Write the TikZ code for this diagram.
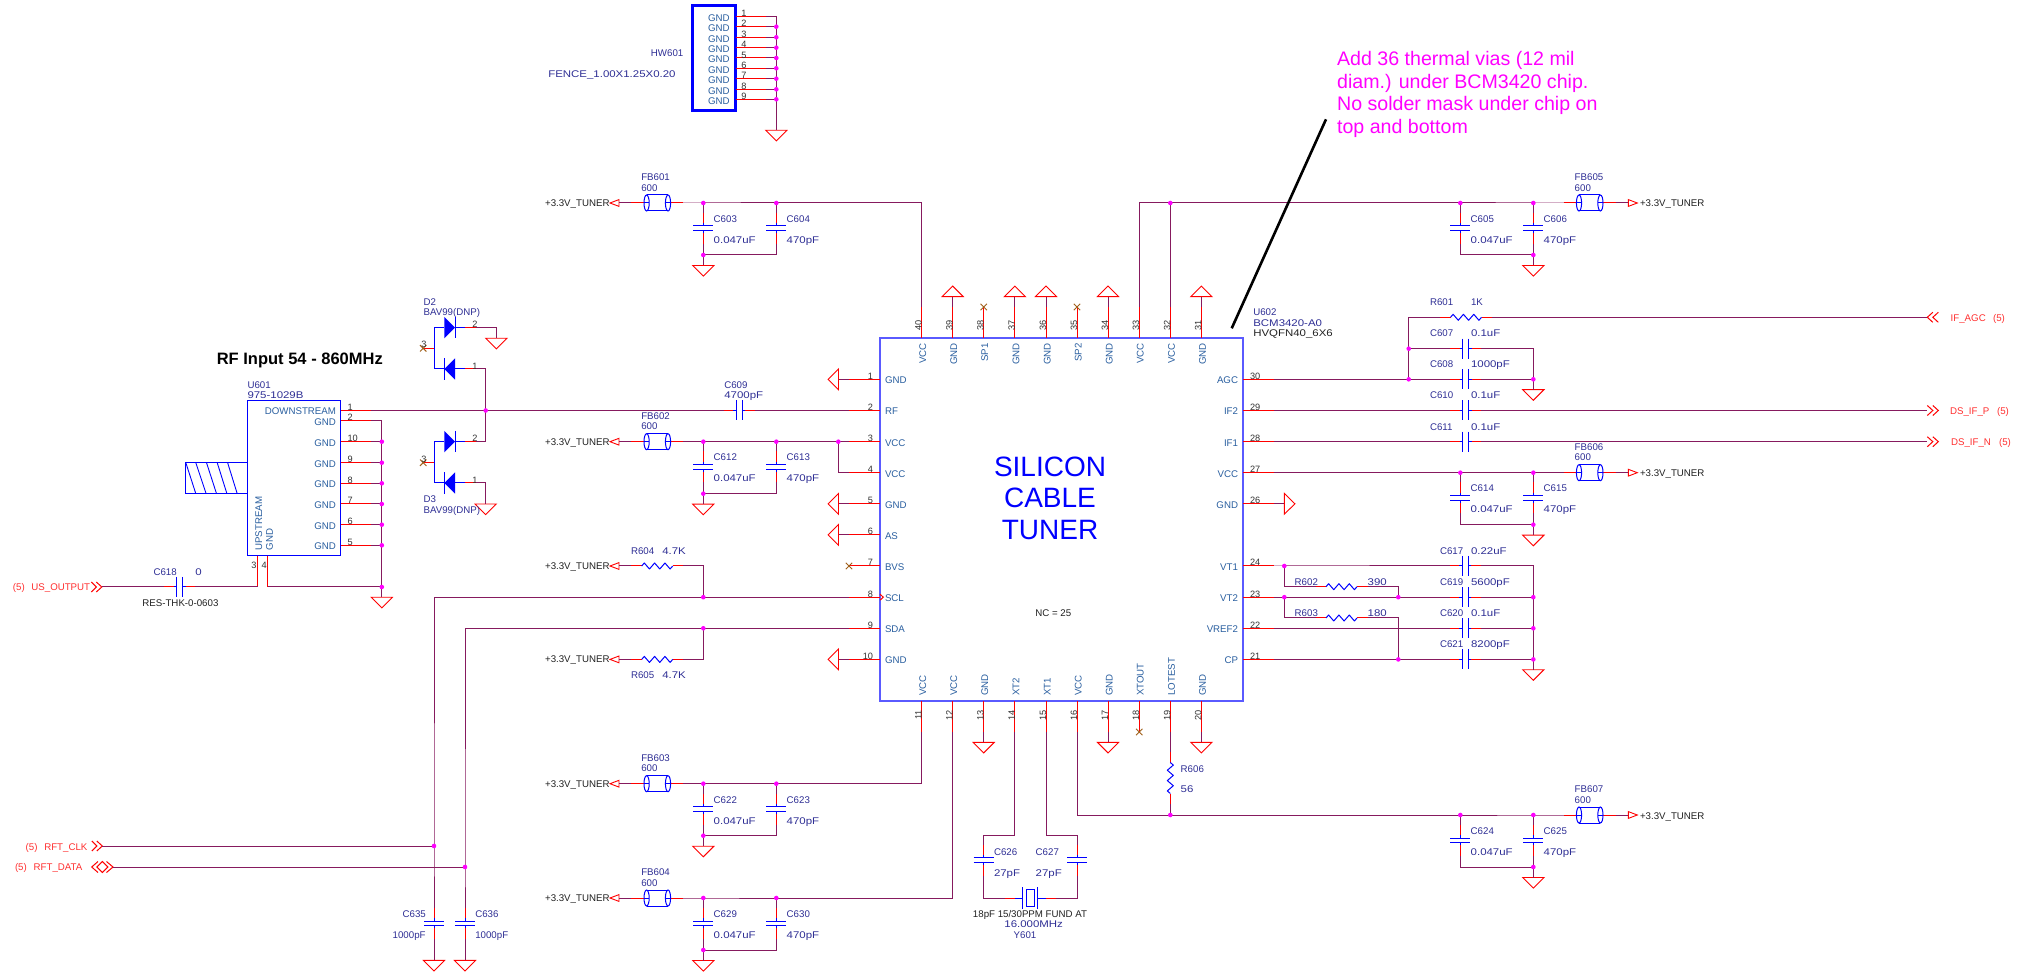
\documentclass[tikz,border=0pt]{standalone}
\usepackage{fontspec}
\setmainfont{Liberation Sans}
\newfontfamily\widef[FakeStretch=1.18]{Liberation Sans}
\definecolor{wirec}{HTML}{861A5E}
\definecolor{navyt}{HTML}{2F2F95}
\definecolor{pint}{HTML}{2A5FA0}
\definecolor{numt}{HTML}{333333}
\definecolor{blkt}{HTML}{222222}
\definecolor{sigt}{HTML}{FF3030}
\definecolor{xc}{HTML}{A0601A}
\definecolor{chipc}{HTML}{5A5AFF}
\definecolor{magc}{HTML}{FF00FF}
\definecolor{purered}{HTML}{FF0000}
\definecolor{pureblue}{HTML}{0000FF}
\newcount\txtc
\tikzset{
 txt/.style={inner sep=0,outer sep=0,font=\fontsize{4.85}{5.5}\selectfont,text height=3.5pt,text depth=0pt},
 lab/.style={txt,text=navyt},
 labw/.style={txt,text=navyt,font=\fontsize{4.85}{5.5}\widef},
 blkw/.style={txt,text=blkt,font=\fontsize{4.85}{5.5}\widef},
 pinl/.style={txt,text=pint},
 num/.style={txt,text=numt,font=\fontsize{4.6}{5.5}\selectfont},
 blk/.style={txt,text=blkt},
 sig/.style={txt,text=sigt},
 wire/.style={draw=wirec,line width=0.5pt},
 pinw/.style={draw=purered,line width=0.5pt},
 comp/.style={draw=pureblue,line width=0.5pt},
 gndst/.style={draw=purered,line width=0.45pt,line join=miter},
 jdot/.style={circle,fill=magc,inner sep=0,outer sep=0,minimum size=2.3pt},
 chipbox/.style={draw=chipc,line width=0.8pt,inner sep=0,outer sep=0},
}
\newcommand{\Lw}[4]{\global\advance\txtc by 1 \node[#1,anchor=west] (t\the\txtc) at (#2,#3) {#4};}
\newcommand{\Le}[4]{\global\advance\txtc by 1 \node[#1,anchor=east] (t\the\txtc) at (#2,#3) {#4};}
\newcommand{\Lc}[4]{\global\advance\txtc by 1 \node[#1] (t\the\txtc) at (#2,#3) {#4};}
\newcommand{\RotW}[4]{\global\advance\txtc by 1 \node[#1,rotate=90,anchor=west] (t\the\txtc) at (#2,#3) {#4};}
\newcommand{\RotE}[4]{\global\advance\txtc by 1 \node[#1,rotate=90,anchor=east] (t\the\txtc) at (#2,#3) {#4};}
\newcommand{\jn}[3]{\coordinate (#1) at (#2,#3);}
\newcommand{\dotat}[1]{\node[jdot] (d#1) at (#1) {};}
% ground symbols: name, x, y of base
\newcommand{\gndD}[3]{\coordinate (#1) at (#2,#3); \draw[gndst] (#2-10.6,#3) -- (#2+10.6,#3) -- (#2,#3+10.6) -- cycle;}
\newcommand{\gndU}[3]{\coordinate (#1) at (#2,#3); \draw[gndst] (#2-10.6,#3) -- (#2+10.6,#3) -- (#2,#3-10.6) -- cycle;}
\newcommand{\gndL}[3]{\coordinate (#1) at (#2,#3); \draw[gndst] (#2,#3-10.4) -- (#2,#3+10.4) -- (#2-10.4,#3) -- cycle;}
\newcommand{\gndR}[3]{\coordinate (#1) at (#2,#3); \draw[gndst] (#2,#3-10.4) -- (#2,#3+10.4) -- (#2+10.6,#3) -- cycle;}
% capacitors
\newcommand{\capV}[3]{\coordinate (#1A) at (#2,#3-15.5); \coordinate (#1B) at (#2,#3+15.5);
 \draw[pinw] (#1A) -- (#2,#3-5); \draw[pinw] (#1B) -- (#2,#3+5);
 \draw[comp] (#2,#3-5) -- (#2,#3-2.3) (#2,#3+5) -- (#2,#3+2.3) (#2-10,#3-2.3) -- (#2+10,#3-2.3) (#2-10,#3+2.3) -- (#2+10,#3+2.3);}
\newcommand{\capH}[3]{\coordinate (#1A) at (#2-15.5,#3); \coordinate (#1B) at (#2+15.5,#3);
 \draw[pinw] (#1A) -- (#2-6,#3); \draw[pinw] (#1B) -- (#2+6,#3);
 \draw[comp] (#2-6,#3) -- (#2-3.2,#3) (#2+6,#3) -- (#2+3.2,#3) (#2-3.2,#3-10) -- (#2-3.2,#3+10) (#2+3.2,#3-10) -- (#2+3.2,#3+10);}
% resistors
\newcommand{\resH}[3]{\coordinate (#1A) at (#2-26,#3); \coordinate (#1B) at (#2+26,#3);
 \draw[pinw] (#1A) -- (#2-15.5,#3); \draw[pinw] (#1B) -- (#2+15.5,#3);
 \draw[comp,line join=round] (#2-15.5,#3) -- (#2-12.9,#3-3) -- (#2-7.75,#3+3) -- (#2-2.6,#3-3) -- (#2+2.6,#3+3) -- (#2+7.75,#3-3) -- (#2+12.9,#3+3) -- (#2+15.5,#3);}
\newcommand{\resV}[3]{\coordinate (#1A) at (#2,#3-26); \coordinate (#1B) at (#2,#3+26);
 \draw[pinw] (#1A) -- (#2,#3-15.5); \draw[pinw] (#1B) -- (#2,#3+15.5);
 \draw[comp,line join=round] (#2,#3-15.5) -- (#2+3,#3-12.9) -- (#2-3,#3-7.75) -- (#2+3,#3-2.6) -- (#2-3,#3+2.6) -- (#2+3,#3+7.75) -- (#2-3,#3+12.9) -- (#2,#3+15.5);}
% ferrite bead
\newcommand{\bead}[3]{\coordinate (#1A) at (#2-26,#3); \coordinate (#1B) at (#2+26,#3);
 \draw[pinw] (#1A) -- (#2-13,#3); \draw[pinw] (#1B) -- (#2+13,#3);
 \draw[comp] (#2-13,#3) -- (#2-8,#3) (#2+13,#3) -- (#2+8,#3);
 \draw[comp] (#2-10.7,#3-8) -- (#2+10.7,#3-8) (#2-10.7,#3+8) -- (#2+10.7,#3+8);
 \draw[comp] (#2-10.7,#3) ellipse [x radius=2.6,y radius=8];
 \draw[comp] (#2+10.7,#3) ellipse [x radius=2.6,y radius=8];}
% power flags
\newcommand{\flagL}[3]{\coordinate (#1) at (#2+9,#3); \draw[gndst] (#2,#3) -- (#2+9,#3-3.4) -- (#2+9,#3+3.4) -- cycle; \Le{blk}{#2-0.5}{#3}{+3.3V\_TUNER}}
\newcommand{\flagR}[3]{\coordinate (#1) at (#2-9,#3); \draw[gndst] (#2,#3) -- (#2-9,#3-3.4) -- (#2-9,#3+3.4) -- cycle; \Lw{blk}{#2+2.7}{#3+0.5}{+3.3V\_TUNER}}
% no-connect mark
\newcommand{\xmark}[2]{\draw[draw=xc,line width=0.5pt] (#1-3.2,#2-3.2) -- (#1+3.2,#2+3.2) (#1-3.2,#2+3.2) -- (#1+3.2,#2-3.2);}
% chevrons: name, x of the wire end, y
\newcommand{\chevsR}[3]{\coordinate (#1) at (#2,#3); \draw[draw=purered,line width=0.5pt] (#2-10.5,#3-5) -- (#2-5.5,#3) -- (#2-10.5,#3+5) (#2-5.5,#3-5) -- (#2,#3) -- (#2-5.5,#3+5);}
\newcommand{\chevsRb}[3]{\coordinate (#1) at (#2,#3); \draw[draw=purered,line width=0.5pt] (#2,#3-5) -- (#2+5.5,#3) -- (#2,#3+5) (#2+5.5,#3-5) -- (#2+11,#3) -- (#2+5.5,#3+5);}
\newcommand{\chevsL}[3]{\coordinate (#1) at (#2,#3); \draw[draw=purered,line width=0.5pt] (#2+5.5,#3-5) -- (#2,#3) -- (#2+5.5,#3+5) (#2+11,#3-5) -- (#2+5.5,#3) -- (#2+11,#3+5);}
% diode: name, y, direction (+1 right, -1 left)
\newcommand{\diode}[3]{\coordinate (#1L) at (434,#2); \coordinate (#1R) at (465,#2);
 \draw[comp] (#1L) -- (444.3,#2) (#1R) -- (455,#2);
 \ifnum#3>0
  \fill[pureblue] (444.3,#2-10.7) -- (444.3,#2+10.7) -- (455,#2) -- cycle; \draw[comp] (455,#2-10.7) -- (455,#2+10.7);
 \else
  \fill[pureblue] (455,#2-10.7) -- (455,#2+10.7) -- (444.3,#2) -- cycle; \draw[comp] (444.3,#2-10.7) -- (444.3,#2+10.7);
 \fi
 \draw[pinw] (#1R) -- (476,#2);}
% U602 pins
\newcommand{\pinLL}[3]{\coordinate (p#1) at (880,#2); \coordinate (q#1) at (849,#2); \draw[pinw] (p#1) -- (q#1); \Le{num}{873}{#2-3.5}{#1} \Lw{pinl}{885}{#2+1}{#3}}
\newcommand{\pinRR}[3]{\coordinate (p#1) at (1243,#2); \coordinate (q#1) at (1274,#2); \draw[pinw] (p#1) -- (q#1); \Lw{num}{1250}{#2-3.5}{#1} \Le{pinl}{1238}{#2+1}{#3}}
\newcommand{\pinTT}[3]{\coordinate (p#1) at (#2,338); \coordinate (q#1) at (#2,307); \draw[pinw] (p#1) -- (q#1); \RotW{num}{#2-3.5}{331}{#1} \RotE{pinl}{#2+1}{343.3}{#3}}
\newcommand{\pinBB}[3]{\coordinate (p#1) at (#2,701); \coordinate (q#1) at (#2,732); \draw[pinw] (p#1) -- (q#1); \RotE{num}{#2-3.5}{710}{#1} \RotW{pinl}{#2+1}{695.8}{#3}}
% supply groups: bead, cap1, cap2, y, value label
\newcommand{\supL}[4]{\bead{#1}{657.3}{#4} \flagL{#1f}{610}{#4} \capV{#2}{703.3}{#4+25.3} \capV{#3}{776.3}{#4+25.3}
 \jn{#1a}{703.3}{#4} \jn{#1b}{776.3}{#4} \jn{#1c}{703.3}{#4+52} \jn{#1e}{776.3}{#4+52}
 \gndD{#1g}{703.3}{#4+62.5}
 \draw[wire] (#1f) -- (#1A) (#1B) -- (#1a) -- (#1b) (#1a) -- (#2A) (#1b) -- (#3A) (#2B) -- (#1c) -- (#1e) -- (#3B) (#1c) -- (#1g);
 \Lw{lab}{641.3}{#4-25.6}{#1} \Lw{lab}{641.3}{#4-15.3}{600}
 \Lw{lab}{713.7}{#4+15.8}{#2} \Lw{labw}{713.7}{#4+36.8}{0.047uF} \Lw{lab}{786.7}{#4+15.8}{#3} \Lw{labw}{786.7}{#4+36.8}{470pF}}
\newcommand{\supR}[4]{\bead{#1}{1589.7}{#4} \flagR{#1f}{1637.3}{#4} \capV{#2}{1460.3}{#4+25.3} \capV{#3}{1533.3}{#4+25.3}
 \jn{#1a}{1460.3}{#4} \jn{#1b}{1533.3}{#4} \jn{#1c}{1533.3}{#4+52} \jn{#1e}{1460.3}{#4+52}
 \gndD{#1g}{1533.3}{#4+62.5}
 \draw[wire] (#1f) -- (#1B) (#1A) -- (#1b) -- (#1a) (#1a) -- (#2A) (#1b) -- (#3A) (#3B) -- (#1c) -- (#1e) -- (#2B) (#1c) -- (#1g);
 \Lw{lab}{1574.7}{#4-25.6}{#1} \Lw{lab}{1574.7}{#4-15.3}{600}
 \Lw{lab}{1470.7}{#4+15.8}{#2} \Lw{labw}{1470.7}{#4+36.8}{0.047uF} \Lw{lab}{1543.7}{#4+15.8}{#3} \Lw{labw}{1543.7}{#4+36.8}{470pF}}
\begin{document}
\begin{tikzpicture}[x=0.5pt,y=-0.5pt]
\useasboundingbox (0,0) rectangle (2022,977);
\fill[white] (0,0) rectangle (2022,977);

%%% main chip
\node[chipbox,minimum width=181.5pt,minimum height=181.5pt] (U602) at (1061.5,519.5) {};
\foreach \n/\y/\t in {1/379.3/GND,2/410.5/RF,3/441.7/VCC,4/472.7/VCC,5/503.8/GND,6/534.9/AS,7/566/BVS,8/597.2/SCL,9/628.3/SDA,10/659.4/GND}{\pinLL{\n}{\y}{\t}}
\foreach \n/\y/\t in {30/379.3/AGC,29/410.5/IF2,28/441.7/IF1,27/472.7/VCC,26/503.8/GND,24/566/VT1,23/597.2/VT2,22/628.3/VREF2,21/659.4/CP}{\pinRR{\n}{\y}{\t}}
\foreach \n/\x/\t in {40/921.7/VCC,39/952.7/GND,38/983.7/SP1,37/1014.8/GND,36/1046/GND,35/1077/SP2,34/1108/GND,33/1139.2/VCC,32/1170.3/VCC,31/1201.3/GND}{\pinTT{\n}{\x}{\t}}
\foreach \n/\x/\t in {11/921.7/VCC,12/952.7/VCC,13/983.7/GND,14/1014.8/XT2,15/1046/XT1,16/1077/VCC,17/1108/GND,18/1139.2/XTOUT,19/1170.3/LOTEST,20/1201.3/GND}{\pinBB{\n}{\x}{\t}}
\draw[draw=purered,line width=0.5pt] (880,594.2) -- (883.3,597.2) -- (880,600.2);
\node[inner sep=0,text=pureblue,font=\fontsize{14}{15.5}\selectfont,align=center] (chipname) at (1050,498.3) {SILICON\\[0.2pt]CABLE\\[0.2pt]TUNER};
\Lc{blk}{1053.3}{612.7}{NC = 25}
\Lw{lab}{1253.3}{311.7}{U602}
\Lw{labw}{1253.3}{322.7}{BCM3420-A0}
\Lw{blkw}{1253.3}{332.7}{HVQFN40\_6X6}

%%% grounds and no-connects on the chip
\gndU{g39}{952.7}{296.7} \gndU{g37}{1014.8}{296.7} \gndU{g36}{1046}{296.7} \gndU{g34}{1108}{296.7} \gndU{g31}{1201.3}{296.7}
\draw[wire] (q39) -- (g39) (q37) -- (g37) (q36) -- (g36) (q34) -- (g34) (q31) -- (g31);
\gndL{g1}{838.5}{379.3} \gndL{g5}{838.5}{503.8} \gndL{g6}{838.5}{534.9} \gndL{g10}{838.5}{659.4}
\draw[wire] (q1) -- (g1) (q5) -- (g5) (q6) -- (g6) (q10) -- (g10);
\gndD{g13}{983.7}{742.3} \gndD{g17}{1108}{742.3} \gndD{g20}{1201.3}{742.3}
\draw[wire] (q13) -- (g13) (q17) -- (g17) (q20) -- (g20);
\gndR{g26}{1284.3}{503.8}
\draw[wire] (q26) -- (g26);
\xmark{983.7}{307} \xmark{1077}{307} \xmark{849}{566} \xmark{1139.2}{732}

%%% supply groups
\supL{FB601}{C603}{C604}{203}
\supL{FB602}{C612}{C613}{441.7}
\supL{FB603}{C622}{C623}{783.7}
\supL{FB604}{C629}{C630}{898}
\supR{FB605}{C605}{C606}{203}
\supR{FB606}{C614}{C615}{472.7}
\supR{FB607}{C624}{C625}{815}
\jn{j34}{838.3}{441.7}
\jn{jt32}{1170.3}{203}
\jn{j19}{1170.3}{815}
\draw[wire] (FB601b) -| (q40);
\draw[wire] (FB602b) -- (j34) -- (q3) (j34) |- (q4);
\draw[wire] (FB603b) -| (q11);
\draw[wire] (FB604b) -| (q12);
\draw[wire] (q33) |- (FB605a) (q32) -- (jt32);
\draw[wire] (q27) -- (FB606a);
\draw[wire] (q16) |- (FB607a);
\resV{R606}{1170.3}{778}
\draw[wire] (q19) -- (R606A) (R606B) -- (j19);
\Lw{lab}{1180.7}{768.7}{R606} \Lw{labw}{1180.7}{788.7}{56}

%%% right side network
\resH{R601}{1466}{317.3}
\capH{C607}{1465.5}{348.7} \capH{C608}{1465.5}{379.3} \capH{C610}{1465.5}{410.5} \capH{C611}{1465.5}{441.7}
\jn{j30}{1408.7}{379.3} \jn{j607}{1408.7}{348.7} \jn{k601}{1408.7}{317.3} \jn{j30b}{1533.3}{379.3} \jn{k607}{1533.3}{348.7}
\gndD{g30}{1533.3}{389.7}
\chevsL{aAGC}{1927.3}{317.3} \chevsRb{aP}{1927.3}{410.5} \chevsRb{aN}{1927.3}{441.7}
\draw[wire] (q30) -- (j30) -- (C608A) (C608B) -- (j30b) -- (g30) (j30) -- (j607) -- (k601) -- (R601A) (R601B) -- (aAGC);
\draw[wire] (j607) -- (C607A) (C607B) -- (k607) -- (j30b);
\draw[wire] (q29) -- (C610A) (C610B) -- (aP) (q28) -- (C611A) (C611B) -- (aN);
\Lw{lab}{1430}{301.7}{R601} \Lw{lab}{1471}{301.7}{1K}
\Lw{lab}{1430}{332.7}{C607} \Lw{labw}{1471}{332.7}{0.1uF}
\Lw{lab}{1430}{363.7}{C608} \Lw{labw}{1471}{363.7}{1000pF}
\Lw{lab}{1430}{394.7}{C610} \Lw{labw}{1471}{394.7}{0.1uF}
\Lw{lab}{1430}{426.7}{C611} \Lw{labw}{1471}{426.7}{0.1uF}
\Lw{sig}{1950.7}{317.7}{IF\_AGC} \Lw{sig}{1993}{317.7}{(5)}
\Lw{sig}{1950}{410.7}{DS\_IF\_P} \Lw{sig}{1997}{410.7}{(5)}
\Lw{sig}{1951}{441.9}{DS\_IF\_N} \Lw{sig}{1999}{441.9}{(5)}

\capH{C617}{1465.3}{566} \capH{C619}{1465.3}{597.2} \capH{C620}{1465.3}{628.3} \capH{C621}{1465.3}{659.4}
\resH{R602}{1341.5}{586.7} \resH{R603}{1341.5}{618}
\jn{j24}{1284.3}{566} \jn{j23}{1284.3}{597.2} \jn{j23b}{1398.3}{597.2} \jn{j21}{1398.3}{659.4}
\jn{k24}{1533.3}{566} \jn{j23c}{1533.3}{597.2} \jn{j22c}{1533.3}{628.3} \jn{j21c}{1533.3}{659.4}
\gndD{g21}{1533.3}{669.7}
\draw[wire] (q24) -- (j24) -- (C617A) (C617B) -- (k24) -- (j23c) -- (j22c) -- (j21c) -- (g21);
\draw[wire] (q23) -- (j23) -- (j23b) -- (C619A) (C619B) -- (j23c);
\draw[wire] (q22) -- (C620A) (C620B) -- (j22c);
\draw[wire] (q21) -- (j21) -- (C621A) (C621B) -- (j21c);
\draw[wire] (j24) |- (R602A) (R602B) -| (j23b);
\draw[wire] (j23) |- (R603A) (R603B) -| (j21);
\Lw{lab}{1294.7}{581.7}{R602} \Lw{labw}{1367.7}{581.7}{390}
\Lw{lab}{1294.7}{612.7}{R603} \Lw{labw}{1367.7}{612.7}{180}
\Lw{lab}{1440}{550.7}{C617} \Lw{labw}{1471}{550.7}{0.22uF}
\Lw{lab}{1440}{581.7}{C619} \Lw{labw}{1471}{581.7}{5600pF}
\Lw{lab}{1440}{612.7}{C620} \Lw{labw}{1471}{612.7}{0.1uF}
\Lw{lab}{1440}{643.7}{C621} \Lw{labw}{1471}{643.7}{8200pF}

%%% note
\coordinate (nA) at (1326,119.3); \coordinate (nB) at (1231.7,328.3);
\draw[black,line width=1.3pt] (nA) -- (nB);
\node[inner sep=0,text=magc,anchor=north west,align=left,font=\fontsize{9.8}{11.35}\selectfont] (note) at (1336.7,51) {Add 36 thermal vias (12 mil\\diam.) under BCM3420 chip.\\No solder mask under chip on\\top and bottom};

%%% crystal
\capV{C626}{983.7}{860} \capV{C627}{1077}{860}
\coordinate (Y601A) at (1005,898.3); \coordinate (Y601B) at (1056,898.3);
\draw[pinw] (Y601A) -- (1015,898.3) (Y601B) -- (1046,898.3);
\draw[comp] (1015,898.3) -- (1022.7,898.3) (1046,898.3) -- (1037.7,898.3) (1022.7,887.3) -- (1022.7,908.7) (1037.7,887.3) -- (1037.7,908.7);
\node[comp,inner sep=0,minimum width=4.3pt,minimum height=8.7pt] (Y601) at (1030.3,898) {};
\jn{k14}{1014.8}{835.7} \jn{k15}{1046}{835.7}
\draw[wire] (q14) -- (k14) -| (C626A) (C626B) |- (Y601A);
\draw[wire] (q15) -- (k15) -| (C627A) (C627B) |- (Y601B);
\Lw{lab}{994}{851.7}{C626} \Lw{labw}{994}{872.7}{27pF}
\Lw{lab}{1035.7}{851.7}{C627} \Lw{labw}{1035.7}{872.7}{27pF}
\Lc{blk}{1030}{913.7}{18pF 15/30PPM FUND AT}
\Lc{labw}{1033.7}{923.7}{16.000MHz}
\Lc{lab}{1025}{935}{Y601}

%%% I2C pull-ups and lines
\flagL{fR604}{610}{566} \flagL{fR605}{610}{659.4}
\resH{R604}{657.2}{566} \resH{R605}{657.2}{659.4}
\jn{jscl}{703.3}{597.2} \jn{jsda}{703.3}{628.3}
\jn{kscl}{434}{597.2} \jn{ksda}{465}{628.3}
\jn{jclk}{434}{846} \jn{jdat}{465}{867}
\capV{C635}{434}{923.3} \capV{C636}{465}{923.3}
\gndD{g635}{434}{960.3} \gndD{g636}{465}{960.3}
\chevsR{aCLK}{102.3}{846}
\coordinate (aDAT) at (113,867);
\draw[draw=purered,line width=0.5pt] (98,861.5) -- (91.7,867) -- (98,872.5) (106.5,861.5) -- (113,867) -- (106.5,872.5) (102.3,861.5) -- (96.8,867) -- (102.3,872.5) -- (107.8,867) -- cycle;
\draw[wire] (fR604) -- (R604A) (R604B) -| (jscl) (fR605) -- (R605A) (R605B) -| (jsda);
\draw[wire] (q8) -- (jscl) -- (kscl) -- (jclk) -- (C635A) (C635B) -- (g635);
\draw[wire] (q9) -- (jsda) -- (ksda) -- (jdat) -- (C636A) (C636B) -- (g636);
\draw[wire] (aCLK) -- (jclk) (aDAT) -- (jdat);
\Lw{lab}{631}{550.7}{R604} \Lw{labw}{662.3}{550.7}{4.7K}
\Lw{lab}{631}{674.7}{R605} \Lw{labw}{662.3}{674.7}{4.7K}
\Lw{sig}{25.7}{846.5}{(5)} \Lw{sig}{44.3}{846.5}{RFT\_CLK}
\Lw{sig}{15}{867}{(5)} \Lw{sig}{33.7}{867}{RFT\_DATA}
\Lw{lab}{402.7}{913.7}{C635} \Lw{lab}{392.7}{934.7}{1000pF}
\Lw{lab}{475.3}{913.7}{C636} \Lw{lab}{475.3}{934.7}{1000pF}

%%% U601
\node[comp,inner sep=0,outer sep=0,minimum width=46.6pt,minimum height=77.85pt] (U601) at (294.1,478.15) {};
\draw[comp] (247.5,462.3) -- (185,462.3) -- (185,493.3) -- (247.5,493.3);
\draw[draw=pureblue,line width=0.45pt] (185.7,462.3) -- (195.7,493.3) (195.7,462.3) -- (206,493.3) (206.4,462.3) -- (216.4,493.3) (217.1,462.3) -- (226.8,493.3) (227.5,462.3) -- (237.1,493.3);
\foreach \n/\y/\t in {1/410.5/DOWNSTREAM,2/421/GND,10/441.7/GND,9/462.7/GND,8/483.3/GND,7/504/GND,6/524.7/GND,5/545.3/GND}{
 \coordinate (up\n) at (340.7,\y); \coordinate (uq\n) at (371.4,\y); \draw[pinw] (up\n) -- (uq\n);
 \Lw{num}{347.5}{\y-3.6}{\n} \Le{pinl}{336}{\y+1}{\t}}
\RotW{pinl}{258.6}{550.5}{UPSTREAM} \RotW{pinl}{269.3}{550.5}{GND}
\coordinate (up3) at (257.9,556); \coordinate (uk3) at (257.9,587);
\coordinate (up4) at (267.5,556); \coordinate (uk4) at (267.5,587);
\draw[pinw] (up3) -- (uk3) (up4) -- (uk4);
\Lc{num}{254}{565.3}{3} \Lc{num}{264.3}{565.3}{4}
\foreach \n/\y in {10/441.7,9/462.7,8/483.3,7/504,6/524.7,5/545.3}{\coordinate (b\n) at (381.8,\y); \draw[wire] (uq\n) -- (b\n);}
\jn{b2}{381.8}{421} \jn{bb}{381.8}{587}
\gndD{gU}{381.8}{597.3}
\draw[wire] (uq2) -- (b2) -- (bb) -- (gU) (uk4) -- (bb);
\capH{C618}{179.6}{587}
\chevsR{aUS}{101.8}{587}
\draw[wire] (aUS) -- (C618A) (C618B) -- (uk3);
\Lw{lab}{153.6}{571.7}{C618} \Lw{labw}{195.4}{571.7}{0}
\Lc{blk}{180.4}{602.7}{RES-THK-0-0603}
\Lw{sig}{12.9}{586.7}{(5)} \Lw{sig}{31.4}{586.7}{US\_OUTPUT}
\Lw{lab}{247.5}{385}{U601} \Lw{labw}{247.5}{394.7}{975-1029B}
\Lc{txt,font=\fontsize{8.25}{9}\bfseries,text=black,text height=5.9pt}{299.8}{358.3}{RF Input 54 - 860MHz}

%%% RF line and protection diodes
\capH{C609}{739.3}{410.5}
\jn{jrf}{485.7}{410.5}
\draw[wire] (uq1) -- (jrf) -- (C609A) (C609B) -- (q2);
\Lw{lab}{724.3}{384.7}{C609} \Lw{labw}{724.3}{395}{4700pF}
\diode{D2a}{327.7}{1} \diode{D2b}{369}{-1} \diode{D3a}{441.7}{1} \diode{D3b}{483}{-1}
\draw[comp] (D2aL) -- (D2bL) (D3aL) -- (D3bL);
\coordinate (s2) at (434,348.3); \coordinate (x2) at (423.2,348.3);
\coordinate (s3) at (434,462.7); \coordinate (x3) at (423.2,462.7);
\draw[pinw] (s2) -- (x2) (s3) -- (x3);
\xmark{423.2}{348.3} \xmark{423.2}{462.7}
\Lc{num}{424}{344.3}{3} \Lc{num}{424}{458.6}{3}
\Lc{num}{475}{324.3}{2} \Lc{num}{475}{366}{1} \Lc{num}{475}{438}{2} \Lc{num}{475}{479.7}{1}
\gndD{gD2}{496.4}{338.3} \gndD{gD3}{485.7}{504}
\coordinate (k2a) at (476,327.7); \coordinate (k2b) at (476,369); \coordinate (k3a) at (476,441.7); \coordinate (k3b) at (476,483);
\draw[wire] (k2a) -| (gD2) (k2b) -| (jrf) (k3a) -| (jrf) (k3b) -| (gD3);
\Lw{lab}{423.6}{301.7}{D2} \Lw{lab}{423.6}{311.7}{BAV99(DNP)}
\Lw{lab}{423.6}{498.7}{D3} \Lw{lab}{423.6}{509.7}{BAV99(DNP)}

%%% HW601
\node[draw=pureblue,line width=1.35pt,inner sep=0,outer sep=0,minimum width=21.7pt,minimum height=52.7pt] (HW601) at (714,58) {};
\foreach \n/\y in {1/16.3,2/26.7,3/37.3,4/47.7,5/58,6/68.3,7/78.7,8/89.3,9/99.3}{
 \coordinate (hp\n) at (735.7,\y); \coordinate (hq\n) at (766,\y); \coordinate (hb\n) at (776.3,\y);
 \draw[pinw] (hp\n) -- (hq\n); \draw[wire] (hq\n) -- (hb\n);
 \Lc{num}{744}{\y-3.4}{\n} \Le{pinl}{729.7}{\y+1.3}{GND}}
\gndD{gHW}{776.3}{130.3}
\draw[wire] (hb1) -- (gHW);
\Le{lab}{683.3}{52.7}{HW601}
\Lw{labw}{548.3}{73.7}{FENCE\_1.00X1.25X0.20}

%%% junction dots
\foreach \d in {FB601a,FB601b,FB601c,FB602a,FB602b,FB602c,FB603a,FB603b,FB603c,FB604a,FB604b,FB604c,FB605a,FB605b,FB605c,FB606a,FB606b,FB606c,FB607a,FB607b,FB607c,j34,jt32,j19,j30,j607,j30b,j24,j23,j23b,j21,j23c,j22c,j21c,jscl,jsda,jclk,jdat,b10,b9,b8,b7,b6,b5,bb,jrf,hb2,hb3,hb4,hb5,hb6,hb7,hb8,hb9}{\dotat{\d}}
\end{tikzpicture}
\end{document}
